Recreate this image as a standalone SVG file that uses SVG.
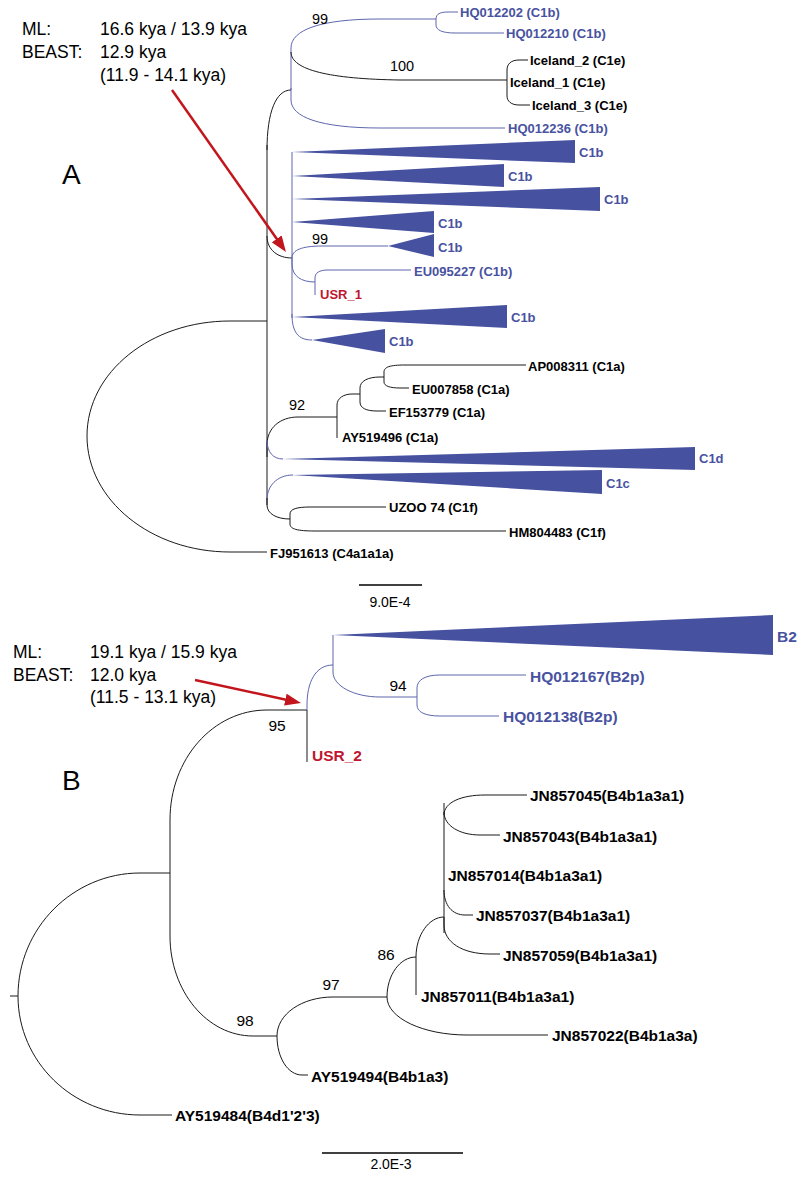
<svg xmlns="http://www.w3.org/2000/svg" width="805" height="1180" viewBox="0 0 805 1180">
<style>
.br{fill:none;stroke:#1a1a1a;stroke-width:1}
.bb{fill:none;stroke:#5d66ad;stroke-width:1}
.tri{fill:#4651a0}
.lab{font-family:"Liberation Sans",Arial,sans-serif;font-weight:bold;font-size:13px;dominant-baseline:central;fill:#000}
.lb{font-size:15.5px}
.blue{fill:#4852a0}
.red{fill:#c0162f}
.sup{font-family:"Liberation Sans",Arial,sans-serif;font-size:14.5px;text-anchor:middle;dominant-baseline:central;fill:#000}
.supB{font-size:15.5px}
.ann{font-family:"Liberation Sans",Arial,sans-serif;font-size:17.5px;fill:#000}
.big{font-family:"Liberation Sans",Arial,sans-serif;font-size:28px;fill:#000}
.scale{fill:none;stroke:#000;stroke-width:1.5}
.sl{font-family:"Liberation Sans",Arial,sans-serif;font-size:14px;text-anchor:middle;dominant-baseline:central;fill:#000}
.arrow{fill:none;stroke:#c3161c;stroke-width:2.5;marker-end:url(#ah)}
</style>
<defs>
<marker id="ah" markerUnits="userSpaceOnUse" markerWidth="16" markerHeight="12" refX="2" refY="6" orient="auto">
<path d="M0,0 L16,6 L0,12 Z" fill="#c3161c"/>
</marker>
</defs>
<rect width="805" height="1180" fill="#fff"/>

<g id="connectors">
<!-- Tree A -->
<path class="br" d="M87,436 C87,372 151,321 230,321 L267,321"/>
<path class="br" d="M87,436 C87,500 151,552 230,552 L267,552"/>
<path class="br" d="M267,145 L267,505"/>
<path class="br" d="M267,150 C267,112 276,90 291,90"/>
<path class="bb" d="M291,90 L291,48 C291,30 320,19 380,19 L436,19"/>
<path class="br" d="M291,52 C291,70 330,79 400,80 L507,80"/>
<path class="bb" d="M291,88 L291,100 C291,117 320,128 380,128 L505,128"/>
<path class="bb" d="M436,19 C436,14 440,12 448,12 L458,12"/>
<path class="bb" d="M436,19 L436,25 C436,30 442,33 455,33 L504,33"/>
<path class="br" d="M507,80 L507,70 C507,64 511,60 519,60 L528,60"/>
<path class="br" d="M507,80 L507,96 C507,101 511,105 519,105 L530,105"/>
<path class="br" d="M267,236 C267,250 278,258 292,258"/>
<path class="bb" d="M292,152 L292,318"/>
<path class="bb" d="M292,258 C292,250 302,246 322,246 L388,246"/>
<path class="bb" d="M292,258 L292,264 C292,276 301,282 315,282"/>
<path class="bb" d="M315,282 L315,278 C315,273 319,270 328,270 L411,270"/>
<path class="bb" d="M315,282 L315,295"/>
<path class="bb" d="M292,314 C292,332 298,340 312,340"/>
<path class="br" d="M267,457 L267,445 C267,428 280,417 298,417 L337,417"/>
<path class="br" d="M337,417 L337,405 C337,398 344,394 352,394 L360,394"/>
<path class="br" d="M337,417 L337,438"/>
<path class="br" d="M360,394 L360,388 C360,381 368,377 380,377 L384,377"/>
<path class="br" d="M360,394 L360,402 C360,408 366,411 377,411 L386,411"/>
<path class="br" d="M384,377 L384,372 C384,367 390,365 405,365 L526,365"/>
<path class="br" d="M384,377 L384,382 C384,386 390,388 400,388 L409,388"/>
<path class="bb" d="M267,440 C267,452 273,459 283,459"/>
<path class="bb" d="M267,500 C267,486 277,475 293,475"/>
<path class="br" d="M267,498 L267,505 C267,514 277,519 290,519"/>
<path class="br" d="M290,519 L290,514 C290,509 297,507 310,507 L386,507"/>
<path class="br" d="M290,519 L290,524 C290,529 297,531 315,531 L506,531"/>
<!-- Tree B -->
<path class="br" d="M10,996 L18,996"/>
<path class="br" d="M18,996 C18,928 73,873 140,873 L170,873"/>
<path class="br" d="M18,996 C18,1062 73,1115 140,1115 L172,1115"/>
<path class="br" d="M170,873 L170,820 C170,759 213,710 267,710 L307,710"/>
<path class="br" d="M170,873 L170,936 C170,991 207,1036 253,1036 L277,1036"/>
<path class="bb" d="M307,710 L307,705 C307,683 315,665 333,665"/>
<path class="br" d="M307,710 L307,762"/>
<path class="bb" d="M333,665 L333,635"/>
<path class="bb" d="M333,665 L333,672 C333,686 354,697 380,697 L417,697"/>
<path class="bb" d="M417,697 L417,688 C417,680 425,675 440,675 L526,675"/>
<path class="bb" d="M417,697 L417,705 C417,712 425,716 440,716 L499,716"/>
<path class="br" d="M277,1036 C277,1014 302,997 333,997 L387,997"/>
<path class="br" d="M277,1036 C277,1058 288,1075 302,1075 L308,1075"/>
<path class="br" d="M387,997 C387,975 400,957 416,957"/>
<path class="br" d="M387,997 C387,1018 423,1035 467,1035 L548,1035"/>
<path class="br" d="M416,957 C416,935 429,917 444,917"/>
<path class="br" d="M416,957 L416,995"/>
<path class="br" d="M444,803 L444,933"/>
<path class="br" d="M444,815 C444,802 462,795 485,795 L527,795"/>
<path class="br" d="M444,812 C444,826 460,835 480,835 L500,835"/>
<path class="br" d="M444,890 C444,905 452,915 465,915 L473,915"/>
<path class="br" d="M444,917 L444,925 C444,942 462,954 490,954 L500,954"/>
<!-- arrows -->
<path class="arrow" d="M172,90 L277.9,240.5"/>
<path class="arrow" d="M195,680 L287.3,700"/>
</g>

<g id="annotation-A">
<text class="ann" x="22" y="35">ML:</text>
<text class="ann" x="100" y="35">16.6 kya / 13.9 kya</text>
<text class="ann" x="22" y="58">BEAST:</text>
<text class="ann" x="100" y="58">12.9 kya</text>
<text class="ann" x="100" y="81">(11.9 - 14.1 kya)</text>
<text class="big" x="62" y="184">A</text>
</g>

<g id="tree-A-nodes">
<g id="n-HQ012202"><text class="lab blue" x="460" y="12">HQ012202 (C1b)</text></g>
<g id="n-HQ012210"><text class="lab blue" x="506" y="33">HQ012210 (C1b)</text></g>
<g id="n-Iceland2"><text class="lab" x="530" y="60">Iceland_2 (C1e)</text></g>
<g id="n-Iceland1"><text class="lab" x="510" y="82">Iceland_1 (C1e)</text></g>
<g id="n-Iceland3"><text class="lab" x="532" y="105">Iceland_3 (C1e)</text></g>
<g id="n-HQ012236"><text class="lab blue" x="508" y="128">HQ012236 (C1b)</text></g>
<g id="n-C1b-1"><polygon class="tri" points="292,152 575,140 575,163"/><text class="lab blue" x="579" y="152">C1b</text></g>
<g id="n-C1b-2"><polygon class="tri" points="292,176 504,164 504,187"/><text class="lab blue" x="508" y="176">C1b</text></g>
<g id="n-C1b-3"><polygon class="tri" points="292,199 600,187 600,211"/><text class="lab blue" x="604" y="199">C1b</text></g>
<g id="n-C1b-4"><polygon class="tri" points="292,222 434,211 434,233"/><text class="lab blue" x="438" y="223">C1b</text></g>
<g id="n-C1b-5"><polygon class="tri" points="388,246 434,234 434,257"/><text class="lab blue" x="438" y="247">C1b</text></g>
<g id="n-EU095227"><text class="lab blue" x="414" y="271">EU095227 (C1b)</text></g>
<g id="n-USR1"><text class="lab red" x="320" y="294">USR_1</text></g>
<g id="n-C1b-6"><polygon class="tri" points="292,317 507,305 507,328"/><text class="lab blue" x="511" y="317">C1b</text></g>
<g id="n-C1b-7"><polygon class="tri" points="312,340 385,329 385,353"/><text class="lab blue" x="389" y="341">C1b</text></g>
<g id="n-AP008311"><text class="lab" x="528" y="366">AP008311 (C1a)</text></g>
<g id="n-EU007858"><text class="lab" x="412" y="389">EU007858 (C1a)</text></g>
<g id="n-EF153779"><text class="lab" x="389" y="412">EF153779 (C1a)</text></g>
<g id="n-AY519496"><text class="lab" x="342" y="437">AY519496 (C1a)</text></g>
<g id="n-C1d"><polygon class="tri" points="282,459 695,447 695,470"/><text class="lab blue" x="699" y="458">C1d</text></g>
<g id="n-C1c"><polygon class="tri" points="292,475 602,470 602,494"/><text class="lab blue" x="606" y="483">C1c</text></g>
<g id="n-UZOO74"><text class="lab" x="389" y="507">UZOO 74 (C1f)</text></g>
<g id="n-HM804483"><text class="lab" x="509" y="532">HM804483 (C1f)</text></g>
<g id="n-FJ951613"><text class="lab" x="270" y="553">FJ951613 (C4a1a1a)</text></g>
<g id="support-A">
<text class="sup" x="320" y="19">99</text>
<text class="sup" x="402" y="66">100</text>
<text class="sup" x="320" y="239">99</text>
<text class="sup" x="297" y="405">92</text>
</g>
<g id="scale-A"><path class="scale" d="M359,585 L422,585"/><text class="sl" x="390" y="602">9.0E-4</text></g>
</g>

<g id="annotation-B">
<text class="ann" x="13" y="658">ML:</text>
<text class="ann" x="90" y="658">19.1 kya / 15.9 kya</text>
<text class="ann" x="13" y="681">BEAST:</text>
<text class="ann" x="90" y="681">12.0 kya</text>
<text class="ann" x="90" y="703">(11.5 - 13.1 kya)</text>
<text class="big" x="62" y="790">B</text>
</g>

<g id="tree-B-nodes">
<g id="n-B2"><polygon class="tri" points="333,635 773,615 773,655"/><text class="lab lb blue" x="777" y="636">B2</text></g>
<g id="n-HQ012167"><text class="lab lb blue" x="530" y="676">HQ012167(B2p)</text></g>
<g id="n-HQ012138"><text class="lab lb blue" x="503" y="716">HQ012138(B2p)</text></g>
<g id="n-USR2"><text class="lab lb red" x="312" y="755">USR_2</text></g>
<g id="n-JN857045"><text class="lab lb" x="530" y="795">JN857045(B4b1a3a1)</text></g>
<g id="n-JN857043"><text class="lab lb" x="503" y="836">JN857043(B4b1a3a1)</text></g>
<g id="n-JN857014"><text class="lab lb" x="448" y="875">JN857014(B4b1a3a1)</text></g>
<g id="n-JN857037"><text class="lab lb" x="476" y="915">JN857037(B4b1a3a1)</text></g>
<g id="n-JN857059"><text class="lab lb" x="503" y="955">JN857059(B4b1a3a1)</text></g>
<g id="n-JN857011"><text class="lab lb" x="421" y="996">JN857011(B4b1a3a1)</text></g>
<g id="n-JN857022"><text class="lab lb" x="552" y="1035">JN857022(B4b1a3a)</text></g>
<g id="n-AY519494"><text class="lab lb" x="311" y="1076">AY519494(B4b1a3)</text></g>
<g id="n-AY519484"><text class="lab lb" x="175" y="1115">AY519484(B4d1'2'3)</text></g>
<g id="support-B">
<text class="sup supB" x="398" y="685">94</text>
<text class="sup supB" x="277" y="725">95</text>
<text class="sup supB" x="386" y="954">86</text>
<text class="sup supB" x="331" y="984">97</text>
<text class="sup supB" x="245" y="1020">98</text>
</g>
<g id="scale-B"><path class="scale" d="M322,1153 L463,1153"/><text class="sl" x="391" y="1164">2.0E-3</text></g>
</g>
</svg>
